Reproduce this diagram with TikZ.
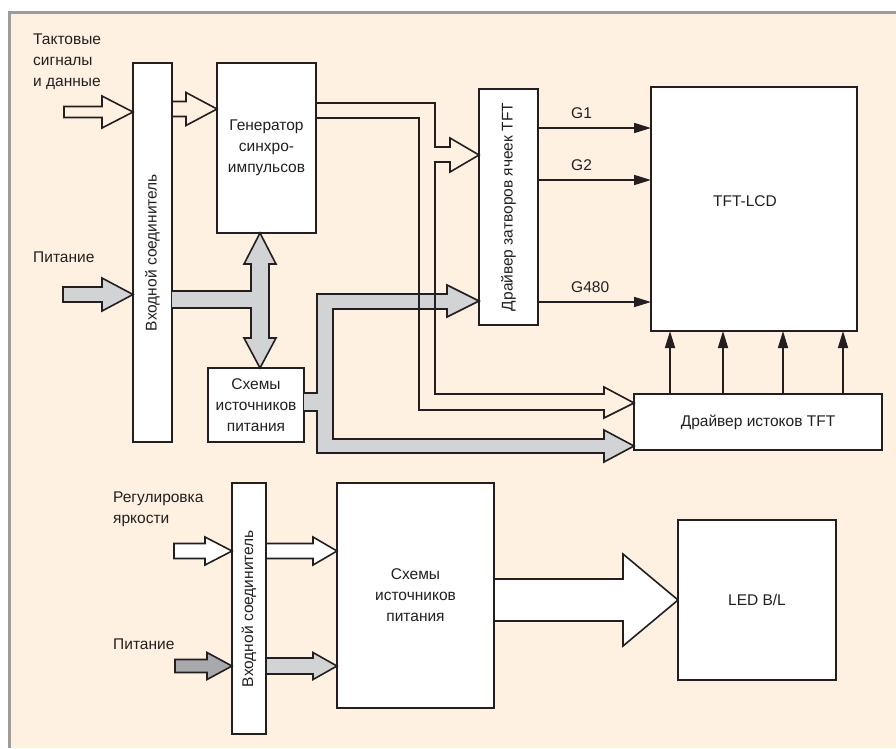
\documentclass[tikz,border=0pt]{standalone}
\usepackage{fontspec}
\setmainfont{Liberation Sans}
\usetikzlibrary{arrows.meta,calc}
\definecolor{cream}{HTML}{FFF1E1}
\definecolor{bus}{HTML}{D1D3D4}
\definecolor{busdark}{HTML}{A7A9AC}
\definecolor{frame}{HTML}{9C9C9C}
\definecolor{ink}{HTML}{231F20}
\tikzset{
 blk/.style={draw=ink,line width=1.6pt},
 box/.style={blk,fill=white,inner sep=0pt,outer sep=0pt,text=ink},
 lbl/.style={inner sep=0pt,text=ink},
 sig/.style={blk,-{Triangle[length=17pt,width=10pt]}}
}
% flat block arrow: [fill]{tail}{tip}{half shaft}{half head}{head length}
\newcommand\barrow[6][white]{\filldraw[blk,fill=#1] let \p1=#2,\p2=#3 in
 (\x1,\y1+#4)--(\x2-#6,\y1+#4)--(\x2-#6,\y1+#5)--(\x2,\y1)--(\x2-#6,\y1-#5)--(\x2-#6,\y1-#4)--(\x1,\y1-#4)--cycle;}

\begin{document}
\begin{tikzpicture}[x=1pt,y=-1pt,font=\fontsize{15.5}{21}\selectfont]
\useasboundingbox(0,0)rectangle(896,748);
\fill[cream](9,12)rectangle(896,748);
\draw[frame,line width=3pt](9,748)--(9,12)--(896,12);

\node[box,minimum width=39,minimum height=379,label={[lbl,rotate=90]center:Входной соединитель}](conA)at(152.5,252.5){};
\node[box,minimum width=99,minimum height=170,align=center](gen)at(266.5,148){Генератор\\синхро-\\импульсов};
\node[box,minimum width=96,minimum height=74,align=center](pwr)at(256,405){Схемы\\источников\\питания};
\node[box,minimum width=59,minimum height=236,label={[lbl,rotate=90]center:Драйвер затворов ячеек TFT}](gate)at(508.5,207){};
\node[box,minimum width=206,minimum height=244,label={[lbl,xshift=-9,yshift=8]center:TFT-LCD}](lcd)at(754,209){};
\node[box,minimum width=248,minimum height=56](src)at(758,422){Драйвер истоков TFT};
\node[box,minimum width=34,minimum height=251,label={[lbl,rotate=90]center:Входной соединитель}](conB)at(249,608.5){};
\node[box,minimum width=157,minimum height=225,align=center](pwrB)at(415.5,595.5){Схемы\\источников\\питания};
\node[box,minimum width=158,minimum height=160](led)at(757,600){LED B/L};

\node[lbl,anchor=north west,align=left](clk)at(33,34){Тактовые\\сигналы\\и данные};
\node[lbl,anchor=base west](pin)at(33,262){Питание};
\node[lbl,anchor=north west,align=left](bri)at(113,492){Регулировка\\яркости};
\node[lbl,anchor=base west](pinB)at(113,649){Питание};

\coordinate(clkT)at(64,112);\coordinate(pwrT)at(63,294.5);
\barrow[cream]{(clkT)}{(conA.west|-clkT)}{5.5}{16}{31}
\barrow[cream]{(conA.east|-0,109)}{(gen.west|-0,109)}{7.5}{16.5}{31}
\barrow[bus]{(pwrT)}{(conA.west|-pwrT)}{7.5}{16.5}{31}

\filldraw[blk,fill=bus](conA.east|-0,291)--(251,291)--(251,264)--(244,264)--(gen.south-|260,0)--(276,264)--(269,264)
 --(269,338)--(276,338)--(pwr.north-|260,0)--(244,338)--(251,338)--(251,308)--(conA.east|-0,308);
\filldraw[blk,fill=bus](pwr.east|-0,393)--(317,393)--(317,294)--(447,294)--(447,285)--(gate.west|-0,301)--(447,317)
 --(447,309)--(333,309)--(333,439)--(604,439)--(604,430)--(src.west|-0,446)--(604,462)--(604,453)--(317,453)
 --(317,411)--(pwr.east|-0,411);
\draw[blk](gen.east|-0,103)--(435,103)--(435,147)--(450,147)--(450,138)--(gate.west|-0,155)--(450,172)--(450,162)
 --(435,162)--(435,394)--(604,394)--(604,387)--(src.west|-0,403)--(604,418)--(604,410)--(419,410)--(419,118)
 --(gen.east|-0,118);

\foreach \y/\g in {128/G1,180/G2,302/G480}{
 \draw[sig](gate.east|-0,\y)--(lcd.west|-0,\y);
 \node[lbl,anchor=base west](\g)at(571,\y-10){\g};}
\foreach \x in {670,723,783,843}\draw[sig](src.north-|\x,0)--(lcd.south-|\x,0);

\coordinate(briT)at(174,551);\coordinate(pwbT)at(175,666);
\barrow{(briT)}{(conB.west|-briT)}{7.5}{14}{27}
\barrow{(conB.east|-briT)}{(pwrB.west|-briT)}{7.5}{14}{24}
\barrow[busdark]{(pwbT)}{(conB.west|-pwbT)}{6.5}{13.5}{25}
\barrow[bus]{(conB.east|-pwbT)}{(pwrB.west|-pwbT)}{8}{13.5}{24}
\barrow{(pwrB.east|-led.west)}{(led.west)}{21}{46}{55}
\end{tikzpicture}
\end{document}
